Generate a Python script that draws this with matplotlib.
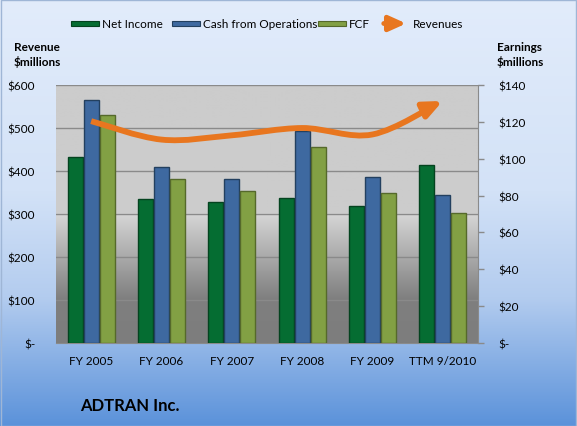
import numpy as np
import matplotlib
matplotlib.use("Agg")
import matplotlib.pyplot as plt
from matplotlib.path import Path
from matplotlib.patches import FancyArrowPatch, Rectangle
from matplotlib.colors import LinearSegmentedColormap

plt.rcParams['font.family'] = ['Lato', 'DejaVu Sans']

categories = ["FY 2005", "FY 2006", "FY 2007", "FY 2008", "FY 2009", "TTM 9/2010"]
net_income = [101.1, 78.1, 76.3, 78.7, 74.3, 96.8]
cash_ops = [132.0, 95.3, 89.0, 115.2, 89.9, 80.1]
fcf = [123.5, 89.0, 82.3, 106.3, 81.2, 70.7]
revenues = [516, 473, 483, 500, 485, 563]

left_ticks = [0, 100, 200, 300, 400, 500, 600]
left_labels = ["$-", "$100", "$200", "$300", "$400", "$500", "$600"]
right_ticks = [0, 20, 40, 60, 80, 100, 120, 140]
right_labels = ["$-", "$20", "$40", "$60", "$80", "$100", "$120", "$140"]

W, H = 577, 427
fig = plt.figure(figsize=(W / 100, H / 100), dpi=100)

# figure background gradient
bg = fig.add_axes([0, 0, 1, 1], zorder=-10)
bg_cmap = LinearSegmentedColormap.from_list(
    "figbg", [(0.0, "#5b92da"), (0.3, "#b3ccef"), (0.55, "#d3e2f7"), (1.0, "#e2ecfb")])
grad = np.linspace(0, 1, 256).reshape(-1, 1)
bg.imshow(grad, aspect="auto", cmap=bg_cmap, origin="lower", extent=[0, 1, 0, 1])
bg.set_xlim(0, 1); bg.set_ylim(0, 1)
bg.axis("off")
fig.add_artist(Rectangle((0.5 / W, 0.5 / H), 1 - 1.5 / W, 1 - 1.5 / H, transform=fig.transFigure,
                         fill=False, edgecolor="#9fb6d6", lw=1.0))

# plot area
x0, x1 = 56 / W, 478 / W
y_top, y_bot = 86 / H, 344 / H
ax = fig.add_axes([x0, 1 - y_bot, x1 - x0, y_bot - y_top])
ax2 = ax.twinx()

# plot area gradient (gray)
pa_cmap = LinearSegmentedColormap.from_list(
    "pabg", [(0.0, "#7d7d7d"), (0.17, "#7f7f7f"), (0.5, "#d6d6d6"), (0.505, "#cccccc"), (1.0, "#cccccc")])
ax.imshow(grad, aspect="auto", cmap=pa_cmap, origin="lower", extent=[0, 1, 0, 1],
          transform=ax.transAxes, zorder=0)

n = len(categories)
x = np.arange(n)
ax.set_xlim(-0.5, n - 0.5)
ax.set_ylim(0, 600)
ax2.set_ylim(0, 140)

for v in left_ticks[1:]:
    ax.axhline(v, color="#8a8a8a", lw=1.0, zorder=1)

bw = 0.21
off = 0.227
series = [(net_income, "#056d32", "#04431f"),
          (cash_ops, "#3e69a0", "#23405f"),
          (fcf, "#82a044", "#55692b")]
for i, (vals, fc, ec) in enumerate(series):
    ax2.bar(x + (i - 1) * off, vals, width=bw, color=fc, edgecolor=ec, linewidth=1.0, zorder=2)

# smoothed revenue line (Catmull-Rom style bezier) with arrow head
pts = np.column_stack([x.astype(float), np.array(revenues, dtype=float)])
verts = [tuple(pts[0])]
codes = [Path.MOVETO]
for i in range(n - 1):
    p0 = pts[i - 1] if i > 0 else pts[i]
    p1 = pts[i]
    p2 = pts[i + 1]
    p3 = pts[i + 2] if i + 2 < n else pts[i + 1]
    c1 = p1 + (p2 - p0) / 6.0
    c2 = p2 - (p3 - p1) / 6.0
    verts += [tuple(c1), tuple(c2), tuple(p2)]
    codes += [Path.CURVE4] * 3
path = Path(verts, codes)
disp_path = ax.transData.transform_path(path)
arrow = FancyArrowPatch(path=disp_path, transform=None,
                        arrowstyle="-|>,head_length=11,head_width=4.8",
                        color="#e8761f", lw=4.2, mutation_scale=1.0, zorder=5,
                        capstyle="butt", joinstyle="round")
ax2.add_artist(arrow)

# axes styling
ax.set_yticks(left_ticks)
ax.set_yticklabels(left_labels)
ax2.set_yticks(right_ticks)
ax2.set_yticklabels(right_labels)
ax.set_xticks(x)
ax.set_xticklabels(categories)
ax.tick_params(axis="y", length=0, pad=15, labelsize=8.5, colors="#000000")
ax2.tick_params(axis="y", length=4, width=1, color="#8a8a8a", pad=11, labelsize=8.5)
ax.tick_params(axis="x", length=0, pad=9, labelsize=8.5)
for a in (ax, ax2):
    for s in ("top", "left"):
        a.spines[s].set_visible(False)
ax2.spines["right"].set_color("#8a8a8a")
ax2.spines["bottom"].set_color("#8a8a8a")
ax.spines["bottom"].set_color("#8a8a8a")
ax.spines["right"].set_visible(False)
ax2.spines["bottom"].set_visible(False)

# axis titles
fig.text(14 / W, 1 - 55 / H, "Revenue\n$millions", ha="left", va="center", fontsize=8.5,
         fontweight="bold", linespacing=1.3)
fig.text(497 / W, 1 - 55 / H, "Earnings\n$millions", ha="left", va="center", fontsize=8.5,
         fontweight="bold", linespacing=1.3)

# legend (manual)
ly = 1 - 24.5 / H
items = [(71, "#056d32", "#04431f", "Net Income"),
         (172, "#3e69a0", "#23405f", "Cash from Operations"),
         (318, "#82a044", "#55692b", "FCF")]
for px, fc, ec, lab in items:
    fig.add_artist(Rectangle((px / W, ly - 2.5 / H), 28 / W, 5 / H, transform=fig.transFigure,
                             facecolor=fc, edgecolor=ec, lw=0.8))
    fig.text((px + 31) / W, ly, lab, ha="left", va="center", fontsize=8.5)
fig.add_artist(FancyArrowPatch((381 / W, ly), (409 / W, ly), transform=fig.transFigure,
                               arrowstyle="-|>,head_length=10,head_width=4.5", mutation_scale=1.0,
                               color="#e8761f", lw=3.5))
fig.text(413 / W, ly, "Revenues", ha="left", va="center", fontsize=8.5)

fig.text(80 / W, 1 - 406 / H, "ADTRAN Inc.", ha="left", va="center", fontsize=12, fontweight="bold")

fig.savefig("out.png", dpi=100)
